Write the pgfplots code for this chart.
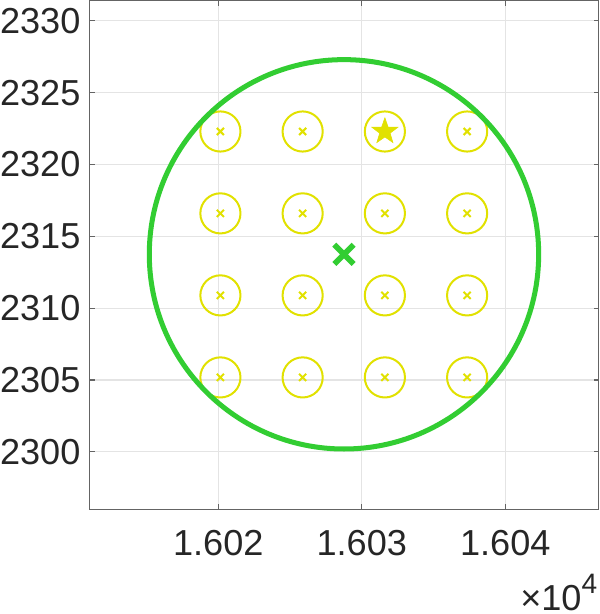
\documentclass[border=0pt]{standalone}
\usepackage{fontspec}
\setmainfont{Liberation Sans}
\usepackage{pgfplots}
\pgfplotsset{compat=1.18}
\usetikzlibrary{plotmarks}

\definecolor{limeg}{RGB}{50,205,50}
\definecolor{yel}{RGB}{225,225,0}
\definecolor{txt}{RGB}{38,38,38}
\definecolor{axgray}{RGB}{100,100,100}
\definecolor{gridc}{RGB}{228,228,228}

% filled five-pointed star
\pgfdeclareplotmark{fstar}{%
  \pgfpathmoveto{\pgfpointpolar{90}{\pgfplotmarksize}}%
  \pgfpathlineto{\pgfpointpolar{126}{0.40\pgfplotmarksize}}%
  \pgfpathlineto{\pgfpointpolar{162}{\pgfplotmarksize}}%
  \pgfpathlineto{\pgfpointpolar{198}{0.40\pgfplotmarksize}}%
  \pgfpathlineto{\pgfpointpolar{234}{\pgfplotmarksize}}%
  \pgfpathlineto{\pgfpointpolar{270}{0.40\pgfplotmarksize}}%
  \pgfpathlineto{\pgfpointpolar{306}{\pgfplotmarksize}}%
  \pgfpathlineto{\pgfpointpolar{342}{0.40\pgfplotmarksize}}%
  \pgfpathlineto{\pgfpointpolar{18}{\pgfplotmarksize}}%
  \pgfpathlineto{\pgfpointpolar{54}{0.40\pgfplotmarksize}}%
  \pgfpathclose
  \pgfusepathqfillstroke
}

% candidate positions (4 x 4 grid)
\pgfplotstableread{
x y
16020.15 2305.18
16025.88 2305.18
16031.61 2305.18
16037.34 2305.18
16020.15 2310.89
16025.88 2310.89
16031.61 2310.89
16037.34 2310.89
16020.15 2316.60
16025.88 2316.60
16031.61 2316.60
16037.34 2316.60
16020.15 2322.30
16025.88 2322.30
16031.61 2322.30
16037.34 2322.30
}\cands

\begin{document}
\begin{tikzpicture}
\begin{axis}[
    name=ax,
    width=253.5pt, height=253.5pt, scale only axis,
    xmin=16011.05, xmax=16046.5,
    ymin=2296.0, ymax=2331.42,
    xtick={16020,16030,16040},
    xticklabels={1.602,1.603,1.604},
    ytick={2300,2305,2310,2315,2320,2325,2330},
    yticklabels={2300,2305,2310,2315,2320,2325,2330},
    scaled x ticks=false, scaled y ticks=false,
    tick label style={font=\fontsize{18}{21}\selectfont, text=txt, inner sep=0pt},
    xticklabel style={yshift=-10.5pt},
    yticklabel style={xshift=-4.5pt},
    grid=major,
    major grid style={gridc, line width=0.5pt},
    axis line style={axgray, line width=0.5pt},
    tick style={axgray, line width=0.5pt},
    tick align=inside,
    xtick pos=both, ytick pos=both,
    major tick length=2.5pt,
]
  % candidate circles
  \addplot[only marks, mark=o, mark size=10pt, draw=yel, line width=1pt]
    table[x=x, y=y] {\cands};
  \addplot[only marks, mark=x, mark size=2.5pt, draw=yel, line width=1pt]
    table[x=x, y=y] {\cands};
  % selected one
  \addplot[only marks, mark=fstar, mark size=6.8pt, fill=yel, draw=yel, line width=0.3pt]
    coordinates {(16031.61,2322.30)};
  % coverage circle and its centre
  \addplot[only marks, mark=o, mark size=97pt, draw=limeg, line width=2.5pt]
    coordinates {(16028.76,2313.75)};
  \addplot[only marks, mark=x, mark size=6.8pt, draw=limeg, line width=2.8pt]
    coordinates {(16028.76,2313.75)};
\end{axis}
\node[anchor=base east, inner xsep=1pt, inner ysep=1.5pt, text=txt, font=\fontsize{18}{21}\selectfont]
  at ([xshift=0.5pt, yshift=-50.5pt]ax.south east)
  {×10\raisebox{8.5pt}{\fontsize{14}{14}\selectfont 4}};
\end{tikzpicture}
\end{document}
